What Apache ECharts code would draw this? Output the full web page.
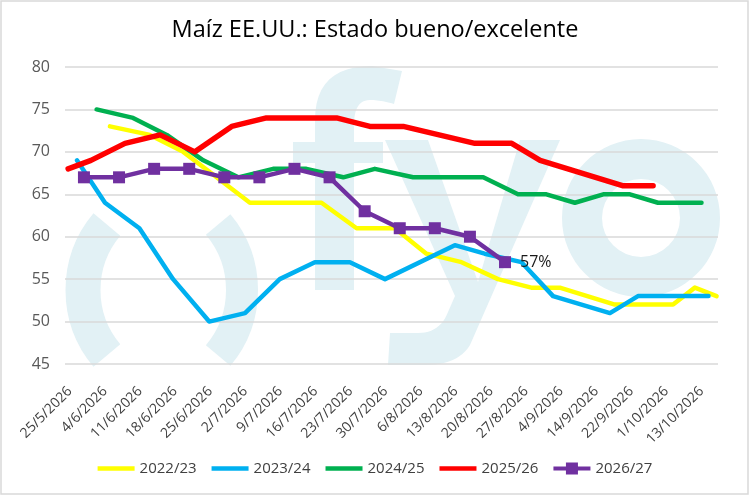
<!DOCTYPE html>
<html><head><meta charset="utf-8">
<script src="https://cdn.jsdelivr.net/npm/echarts@6/dist/echarts.min.js"></script>
<style>html,body{margin:0;padding:0;background:#fff}#c{width:750px;height:496px}</style>
</head><body><div id="c"></div>
<script>
const categories = ['25/5/2026','4/6/2026','11/6/2026','18/6/2026','25/6/2026','2/7/2026','9/7/2026','16/7/2026','23/7/2026','30/7/2026','6/8/2026','13/8/2026','20/8/2026','27/8/2026','4/9/2026','14/9/2026','22/9/2026','1/10/2026','13/10/2026'];
const seriesNames = ['2022/23','2023/24','2024/25','2025/26','2026/27'];
const yTicks = [45,50,55,60,65,70,75,80];

// positions are in category units along the date axis
const pos2022 = [0.74,1.88,2.83,3.78,4.73,6.77,7.77,8.86,9.76,10.76,11.8,12.75,13.56,15.13,16.79,17.41,18.03];
const val2022 = [73,72,70,67,64,64,61,61,58,57,55,54,54,52,52,54,53];

const pos2023 = [-0.2,0.6,1.58,2.54,3.57,4.59,5.58,6.58,7.58,8.58,10.57,11.42,12.47,13.37,14.99,15.79,17.8];
const val2023 = [69,64,61,55,50,51,55,57,57,55,59,58,57,53,51,53,53];

const pos2024 = [0.36,1.4,2.36,3.4,4.4,5.39,6.34,7.39,8.29,9.38,11.38,12.37,13.18,13.99,14.8,15.56,16.36,17.6];
const val2024 = [75,74,72,69,67,68,68,67,68,67,67,65,65,64,65,65,64,64];

const pos2025 = [-0.45,0.2,1.17,2.17,3.16,4.21,5.2,7.2,8.15,9.1,11.14,12.19,13.0,15.37,16.22];
const val2025 = [68,69,71,72,70,73,74,74,73,73,71,71,69,66,66];

const pos2026 = [0,1,2,3,4,5,6,7,8,9,10,11,12];
const val2026 = [67,67,68,68,67,67,68,67,63,61,61,60,57];

const colors = ['#FFFF00','#00B0F0','#00B050','#FF0000','#7030A0'];
const FONT = 'Open Sans';
const LABEL_SHIFT = 0.4;
const WM = '#E2F1F5';
const ICON_LINE = 'path://M0,0 L37,0 L37,4.5 L0,4.5 Z';
const ICON_MARK = 'path://M0,4 L37,4 L37,8 L0,8 Z M12.5,0 L24.5,0 L24.5,12 L12.5,12 Z';

// turn a simple M/L/Q outline into polygon points (watermark decoration only)
function outline(d) {
  const t = d.trim().split(/\s+/);
  const pts = [];
  let cur = null;
  const xy = s => s.replace(/^[MLQ]/, '').split(',').map(Number);
  for (let i = 0; i < t.length; i++) {
    const c = t[i][0];
    if (c === 'M' || c === 'L') { cur = xy(t[i]); pts.push(cur); }
    else if (c === 'Q') {
      const c1 = xy(t[i]); const e = xy(t[i + 1]); i++;
      for (let k = 1; k <= 12; k++) {
        const u = k / 12;
        pts.push([(1-u)*(1-u)*cur[0] + 2*(1-u)*u*c1[0] + u*u*e[0], (1-u)*(1-u)*cur[1] + 2*(1-u)*u*c1[1] + u*u*e[1]]);
      }
      cur = e;
    }
  }
  return pts;
}

const pair = (p, v) => p.map((x, i) => [x, v[i]]);
const lastLabeled = (p, v) => pair(p, v).map((d, i, a) => i === a.length - 1 ? {
  value: d,
  label: {show: true, position: 'right', distance: 9, fontSize: 16, color: '#1a1a1a', fontFamily: FONT,
    formatter: q => q.value[1] + '%'}
} : d);

const chart = echarts.init(document.getElementById('c'), null, {renderer: 'canvas'});
const lineSeries = (name, data, color, width, extra) => Object.assign({
  name, type: 'line', data, symbol: 'none', showSymbol: false,
  lineStyle: {color, width, cap: 'round', join: 'round'}, itemStyle: {color},
  emphasis: {disabled: true}, animation: false, z: 3
}, extra || {});

const option = {
  backgroundColor: '#fff',
  animation: false,
  textStyle: {fontFamily: FONT},
  title: {text: 'Maíz EE.UU.: Estado bueno/excelente', left: 'center', top: 13,
    textStyle: {fontSize: 23.5, fontWeight: 'normal', color: '#000', fontFamily: FONT}},
  grid: {left: 65, right: 32, top: 67, bottom: 132},
  xAxis: {type: 'value', min: -0.54, max: 18.07,
    axisLine: {show: false}, axisTick: {show: false}, splitLine: {show: false},
    axisLabel: {customValues: categories.map((c, i) => i - LABEL_SHIFT),
      formatter: v => categories[Math.round(v + LABEL_SHIFT)] || '',
      rotate: 45, margin: 25, fontSize: 14, color: '#404040', fontFamily: FONT}},
  yAxis: {type: 'value', min: yTicks[0], max: yTicks[yTicks.length - 1], interval: 5,
    axisLine: {show: false}, axisTick: {show: false},
    splitLine: {lineStyle: {color: '#D9D9D9', width: 1.5}},
    axisLabel: {margin: 15, fontSize: 16, color: '#595959', fontFamily: FONT}},
  legend: {data: seriesNames.map((n, i) => ({name: n, icon: i === 4 ? ICON_MARK : ICON_LINE})),
    left: 'center', top: 456, itemWidth: 37, itemHeight: 12, itemGap: 15, symbolKeepAspect: true,
    textStyle: {fontSize: 15, color: '#404040', fontFamily: FONT}},
  graphic: [
    {type: 'arc', z: -1, silent: true, shape: {cx: 185, cy: 290, r: 102, startAngle: 140 * Math.PI / 180, endAngle: 220 * Math.PI / 180, clockwise: true},
      style: {stroke: WM, lineWidth: 35, fill: null, lineCap: 'butt'}},
    {type: 'arc', z: -1, silent: true, shape: {cx: 140, cy: 290, r: 102, startAngle: -40 * Math.PI / 180, endAngle: 40 * Math.PI / 180, clockwise: true},
      style: {stroke: WM, lineWidth: 32, fill: null, lineCap: 'butt'}},
    {type: 'polygon', z: -1, silent: true, shape: {points: outline('M315,290 L315,163 L293,163 L293,142 L315,142 L315,120 Q315,66 372,66 L402,71 L394,104 Q380,100 370,100 Q354,100 354,125 L354,142 L383,142 L383,163 L354,163 L354,290')},
      style: {fill: WM}},
    {type: 'polygon', z: -1, silent: true, shape: {points: outline('M385,140 L428,140 L478,282 L520,140 L560,140 L470,345 Q458,365 425,365 L388,365 L390,333 L418,333 Q440,333 448,312 L455,296')},
      style: {fill: WM}},
    {type: 'ring', z: -1, silent: true, shape: {cx: 641, cy: 218, r: 79, r0: 39}, style: {fill: WM}},
    {type: 'rect', z: 100, silent: true, shape: {x: 1, y: 1, width: 747, height: 493}, style: {fill: null, stroke: '#D9D9D9', lineWidth: 1.5}}
  ],
  series: [
    lineSeries(seriesNames[0], pair(pos2022, val2022), colors[0], 4.5),
    lineSeries(seriesNames[1], pair(pos2023, val2023), colors[1], 4.5),
    lineSeries(seriesNames[2], pair(pos2024, val2024), colors[2], 4.5),
    lineSeries(seriesNames[3], pair(pos2025, val2025), colors[3], 5.5),
    lineSeries(seriesNames[4], lastLabeled(pos2026, val2026), colors[4], 4.5,
      {symbol: 'rect', symbolSize: 12, showSymbol: true, z: 4})
  ]
};
chart.setOption(option);
</script></body></html>
